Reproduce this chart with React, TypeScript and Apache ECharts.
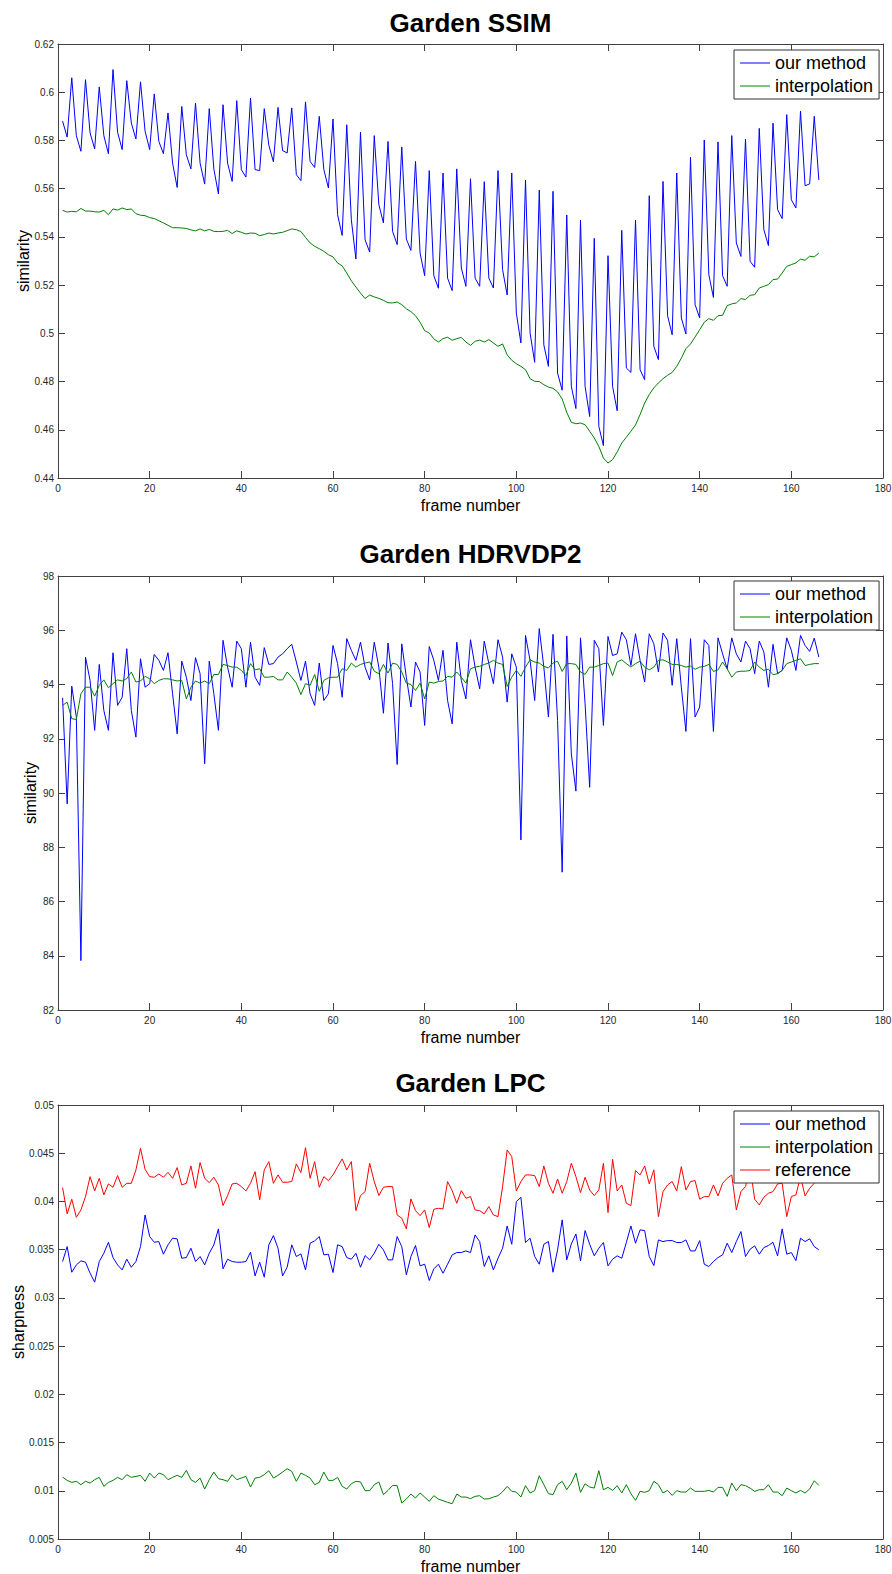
import React, { useEffect, useRef } from "react";
import * as echarts from "echarts";

const FONT = '"Liberation Sans", Arial, Helvetica, sans-serif';

const titles = ["Garden SSIM", "Garden HDRVDP2", "Garden LPC"];
const yNames = ["similarity", "similarity", "sharpness"];
const xName = "frame number";
const seriesNames = ["our method", "interpolation", "reference"];

// x ticks (frame number)
const xTicks = { min: 0, max: 180, interval: 20 };
// y ticks per chart
const yTicks = [
  { min: 0.44, max: 0.62, interval: 0.02 },
  { min: 82, max: 98, interval: 2 },
  { min: 0.005, max: 0.05, interval: 0.005 },
];

// ---- Garden SSIM ----
const ssimOurs = [
  0.588, 0.5814, 0.606, 0.582, 0.5755, 0.6052, 0.5831, 0.5765, 0.6022, 0.582,
  0.5745, 0.6094, 0.5834, 0.5762, 0.6048, 0.5872, 0.5806, 0.6043, 0.5838, 0.5762,
  0.5993, 0.5796, 0.5745, 0.5914, 0.5706, 0.5605, 0.5941, 0.5741, 0.5682, 0.5955,
  0.5706, 0.5619, 0.5932, 0.5682, 0.5578, 0.5948, 0.5706, 0.563, 0.5965, 0.5679,
  0.5648, 0.5976, 0.5679, 0.5675, 0.5932, 0.578, 0.5711, 0.5937, 0.5758, 0.5748,
  0.5935, 0.5658, 0.5633, 0.596, 0.5713, 0.5688, 0.59, 0.5679, 0.5603, 0.5889,
  0.5492, 0.5406, 0.5865, 0.5471, 0.5308, 0.5835, 0.5388, 0.5337, 0.582, 0.5534,
  0.5458, 0.5796, 0.5423, 0.5368, 0.5773, 0.5391, 0.5344, 0.5713, 0.5333, 0.5239,
  0.5675, 0.5239, 0.5187, 0.5665, 0.5229, 0.5177, 0.5682, 0.5271, 0.5195, 0.5641,
  0.5229, 0.5195, 0.5629, 0.5229, 0.5188, 0.5675, 0.5264, 0.5159, 0.5665, 0.5084,
  0.496, 0.5636, 0.5001, 0.488, 0.5594, 0.4952, 0.4863, 0.5589, 0.4835, 0.4764,
  0.5491, 0.478, 0.4688, 0.547, 0.478, 0.4655, 0.5394, 0.4614, 0.4534, 0.5322,
  0.478, 0.4679, 0.5427, 0.4856, 0.4838, 0.547, 0.4849, 0.4808, 0.5571, 0.4946,
  0.4891, 0.563, 0.5073, 0.4994, 0.5665, 0.5064, 0.4997, 0.573, 0.5119, 0.5064,
  0.5802, 0.5243, 0.5149, 0.5794, 0.5239, 0.5195, 0.582, 0.5375, 0.5319, 0.5806,
  0.5299, 0.5274, 0.585, 0.543, 0.5364, 0.5872, 0.5513, 0.5476, 0.5907, 0.5554,
  0.552, 0.5922, 0.5612, 0.562, 0.59, 0.5636,
];
const ssimInterp = [
  0.551, 0.5503, 0.5506, 0.5504, 0.5518, 0.5507, 0.5507, 0.5504, 0.5503, 0.551,
  0.5492, 0.5516, 0.5511, 0.552, 0.5513, 0.5516, 0.5496, 0.549, 0.5488, 0.548,
  0.5476, 0.5467, 0.5458, 0.5448, 0.5438, 0.5438, 0.5437, 0.5435, 0.5429, 0.5425,
  0.5433, 0.5425, 0.5431, 0.5423, 0.5422, 0.5423, 0.5427, 0.5414, 0.5425, 0.5419,
  0.5412, 0.5416, 0.5415, 0.5405, 0.541, 0.5416, 0.5412, 0.5416, 0.5419, 0.5426,
  0.5433, 0.543, 0.5422, 0.5398, 0.5375, 0.5361, 0.5351, 0.534, 0.5326, 0.5317,
  0.5292, 0.528, 0.525, 0.5218, 0.5192, 0.5167, 0.5144, 0.5159, 0.5151, 0.5145,
  0.5137, 0.5127, 0.5126, 0.513, 0.5119, 0.5102, 0.509, 0.5073, 0.5046, 0.5011,
  0.5001, 0.4977, 0.4964, 0.4978, 0.4984, 0.4971, 0.4978, 0.4983, 0.4964, 0.495,
  0.4967, 0.4972, 0.4964, 0.4974, 0.496, 0.4946, 0.4956, 0.4911, 0.4888, 0.4874,
  0.4863, 0.4849, 0.4812, 0.4801, 0.48, 0.4787, 0.4777, 0.4772, 0.4757, 0.4728,
  0.4672, 0.4631, 0.4625, 0.4628, 0.4621, 0.4594, 0.4566, 0.4531, 0.4483, 0.4462,
  0.4476, 0.4508, 0.4545, 0.4569, 0.4594, 0.462, 0.4663, 0.4711, 0.4746, 0.4774,
  0.4794, 0.4812, 0.4826, 0.4838, 0.4863, 0.4897, 0.4936, 0.4956, 0.4985, 0.5015,
  0.5046, 0.5061, 0.5054, 0.5073, 0.5075, 0.5115, 0.5122, 0.5126, 0.5144, 0.514,
  0.5158, 0.516, 0.5188, 0.5195, 0.5202, 0.5223, 0.5225, 0.525, 0.5278, 0.5285,
  0.5292, 0.5308, 0.5303, 0.532, 0.5317, 0.5333,
];

// ---- Garden HDRVDP2 ----
const hdrOurs = [
  93.51, 89.6, 93.94, 92.8, 83.82, 95.01, 94.15, 92.31, 94.74, 93.04,
  92.31, 95.17, 93.23, 93.53, 95.32, 93.04, 92.06, 94.95, 93.9, 94.03,
  95.11, 94.89, 94.52, 95.17, 93.66, 92.18, 94.86, 94.27, 93.41, 94.99,
  94.4, 91.08, 94.86, 93.66, 92.31, 95.63, 94.64, 93.9, 95.6, 95.32,
  93.9, 95.56, 94.27, 93.97, 95.36, 94.74, 94.77, 95.01, 95.13, 95.32,
  95.48, 94.83, 94.15, 94.86, 93.66, 93.23, 94.79, 93.41, 93.66, 95.44,
  94.77, 93.53, 95.69, 95.26, 94.89, 95.56, 94.64, 94.17, 95.56, 94.64,
  92.94, 95.53, 94.03, 91.05, 95.5, 94.27, 93.17, 94.83, 94.46, 92.49,
  95.4, 94.89, 94.15, 95.26, 93.41, 92.55, 95.56, 94.15, 93.47, 95.65,
  94.64, 93.84, 95.6, 94.77, 94.03, 95.65, 95.01, 93.35, 95.13, 94.64,
  88.27, 95.81, 94.89, 93.41, 96.06, 94.64, 92.8, 95.85, 92.67, 87.08,
  95.79, 91.44, 90.07, 95.72, 93.29, 90.21, 95.63, 95.32, 92.49, 95.77,
  95.07, 95.13, 95.93, 95.65, 94.7, 95.87, 94.89, 94.09, 95.87, 95.5,
  94.46, 95.9, 95.63, 93.97, 95.69, 93.9, 92.27, 95.69, 92.8, 93.17,
  95.65, 95.44, 92.27, 95.72, 95.13, 94.58, 95.72, 95.13, 94.83, 95.6,
  95.32, 94.4, 95.6, 95.2, 93.9, 95.48, 94.4, 94.52, 95.72, 95.26,
  94.52, 95.81, 95.44, 95.22, 95.71, 95.01,
];
const hdrInterp = [
  93.23, 93.35, 92.74, 92.71, 93.66, 93.9, 93.9, 93.57, 93.97, 94.17,
  93.88, 94.03, 94.17, 94.13, 94.22, 94.46, 94.09, 94.13, 94.3, 94.21,
  94.03, 94.15, 94.21, 94.21, 94.17, 94.13, 94.15, 93.47, 93.9, 94.13,
  94.05, 94.13, 94.03, 94.37, 94.37, 94.74, 94.7, 94.64, 94.64, 94.52,
  94.33, 94.77, 94.54, 94.58, 94.27, 94.27, 94.3, 94.17, 94.17, 94.46,
  94.27, 94.05, 93.63, 94.03, 93.97, 94.37, 93.75, 94.15, 94.25, 94.27,
  94.27, 94.58, 94.52, 94.79, 94.64, 94.74, 94.79, 94.83, 94.49, 94.4,
  94.74, 94.42, 94.79, 94.74, 94.46, 94.05, 94.0, 93.78, 94.05, 93.47,
  94.09, 94.05, 94.11, 94.13, 94.3, 94.27, 94.46, 94.27, 94.05, 94.58,
  94.64, 94.67, 94.74, 94.79, 94.89, 94.79, 94.74, 93.93, 94.27, 94.52,
  94.3, 94.64, 94.91, 94.83, 94.79, 94.67, 94.61, 94.79, 94.86, 94.48,
  94.77, 94.77, 94.74, 94.46, 94.37, 94.64, 94.64, 94.7, 94.77, 94.79,
  94.33, 94.83, 94.91, 94.77, 94.64, 94.77, 94.86, 94.64, 94.54, 94.64,
  94.89, 94.91, 94.83, 94.74, 94.74, 94.7, 94.64, 94.68, 94.56, 94.64,
  94.67, 94.74, 94.48, 94.54, 94.83, 94.58, 94.27, 94.46, 94.49, 94.49,
  94.52, 94.83, 94.64, 94.52, 94.56, 94.36, 94.4, 94.52, 94.77, 94.83,
  94.89, 94.95, 94.7, 94.74, 94.77, 94.77,
];

// ---- Garden LPC ----
const lpcOurs = [
  0.03377, 0.03532, 0.03266, 0.03342, 0.03384, 0.0337, 0.03256, 0.03163, 0.03377, 0.03463,
  0.03577, 0.03418, 0.03342, 0.0329, 0.03401, 0.03318, 0.03377, 0.03532, 0.0386, 0.03636,
  0.03577, 0.03584, 0.03453, 0.0355, 0.03619, 0.03612, 0.03411, 0.03418, 0.03515, 0.03377,
  0.03429, 0.03342, 0.03463, 0.0355, 0.03715, 0.03301, 0.03401, 0.03377, 0.0337, 0.0337,
  0.03377, 0.03474, 0.03228, 0.0337, 0.03215, 0.0355, 0.03646, 0.03515, 0.03228, 0.03318,
  0.0355, 0.03429, 0.03456, 0.0329, 0.03567, 0.03591, 0.03636, 0.03446, 0.03453, 0.03263,
  0.0355, 0.03532, 0.03418, 0.03401, 0.03463, 0.03318, 0.03439, 0.03394, 0.03463, 0.03556,
  0.03498, 0.03394, 0.03394, 0.03636, 0.03532, 0.03239, 0.03429, 0.03543, 0.03332, 0.03349,
  0.0318, 0.03301, 0.03349, 0.03256, 0.03349, 0.03446, 0.0347, 0.0347, 0.03487, 0.0347,
  0.03653, 0.03584, 0.03325, 0.03436, 0.0329, 0.03411, 0.03515, 0.03746, 0.03556, 0.03998,
  0.04043, 0.03574, 0.03619, 0.03429, 0.03349, 0.03556, 0.03584, 0.03266, 0.03498, 0.03809,
  0.03394, 0.0356, 0.03663, 0.03384, 0.03698, 0.03556, 0.03436, 0.03515, 0.03574, 0.03332,
  0.03401, 0.03436, 0.03411, 0.03574, 0.03746, 0.03567, 0.03705, 0.03698, 0.03429, 0.03335,
  0.03601, 0.03584, 0.03594, 0.03594, 0.03574, 0.03574, 0.03601, 0.03487, 0.03487, 0.03594,
  0.03349, 0.03325, 0.03377, 0.03418, 0.03446, 0.03567, 0.0347, 0.03584, 0.03688, 0.03429,
  0.03505, 0.03539, 0.03453, 0.03522, 0.03543, 0.03577, 0.03436, 0.03715, 0.03453, 0.0347,
  0.03387, 0.03619, 0.03584, 0.03612, 0.03532, 0.03498,
];
const lpcInterp = [
  0.01142, 0.01108, 0.01087, 0.01098, 0.01063, 0.01098, 0.0108, 0.01115, 0.01139, 0.01046,
  0.01087, 0.01108, 0.01139, 0.01115, 0.01167, 0.01139, 0.01149, 0.0116, 0.01098, 0.01184,
  0.01132, 0.01184, 0.01167, 0.01115, 0.01139, 0.0116, 0.01139, 0.01211, 0.01115, 0.01087,
  0.01132, 0.01018, 0.01115, 0.01194, 0.01125, 0.01115, 0.01098, 0.01167, 0.01115, 0.01132,
  0.01149, 0.01039, 0.01132, 0.01139, 0.01167, 0.01208, 0.01132, 0.0116, 0.01194, 0.01229,
  0.01201, 0.01098, 0.01184, 0.0116, 0.01132, 0.01063, 0.01087, 0.01194, 0.01108, 0.01108,
  0.01139, 0.01046, 0.01018, 0.01073, 0.01098, 0.01091, 0.01001, 0.01001, 0.01063, 0.01091,
  0.0096, 0.01004, 0.01056, 0.01053, 0.00873, 0.00914, 0.00966, 0.00925, 0.00977, 0.00935,
  0.0089, 0.00949, 0.00914, 0.00897, 0.0088, 0.00866, 0.00966, 0.00935, 0.00935, 0.00918,
  0.00942, 0.00949, 0.00914, 0.00918, 0.00935, 0.00949, 0.0099, 0.01046, 0.00994, 0.00987,
  0.00935, 0.01053, 0.00977, 0.01001, 0.01156, 0.01063, 0.0097, 0.0096, 0.01063, 0.01098,
  0.01011, 0.0108, 0.01184, 0.00984, 0.01073, 0.01039, 0.01028, 0.01208, 0.01011, 0.01035,
  0.01004, 0.01053, 0.00977, 0.01063, 0.0097, 0.00901, 0.00994, 0.00984, 0.01001, 0.01098,
  0.01063, 0.00977, 0.01004, 0.00952, 0.01001, 0.00987, 0.00987, 0.01028, 0.00994, 0.00994,
  0.00994, 0.01004, 0.00987, 0.01035, 0.01035, 0.00942, 0.0108, 0.01001, 0.01063, 0.01053,
  0.01028, 0.00994, 0.01011, 0.01011, 0.01063, 0.00987, 0.00987, 0.00949, 0.01028, 0.01001,
  0.00977, 0.01004, 0.00977, 0.01018, 0.01104, 0.01056,
];
const lpcReference = [
  0.04144, 0.03871, 0.04023, 0.03836, 0.03912, 0.0405, 0.04257, 0.04109, 0.0424, 0.04068,
  0.04182, 0.04147, 0.04268, 0.04147, 0.04188, 0.04188, 0.04327, 0.04551, 0.04333, 0.04257,
  0.04251, 0.04285, 0.04251, 0.04302, 0.0424, 0.04351, 0.04171, 0.04188, 0.04368, 0.04137,
  0.04403, 0.0424, 0.04195, 0.04251, 0.04171, 0.03957, 0.04061, 0.04182, 0.04188, 0.04154,
  0.04109, 0.04188, 0.04309, 0.04016, 0.04327, 0.04413, 0.04188, 0.04275, 0.04199, 0.04199,
  0.04206, 0.04389, 0.04299, 0.04558, 0.0424, 0.04413, 0.04147, 0.04257, 0.04216, 0.04275,
  0.04361, 0.04441, 0.04327, 0.04413, 0.03905, 0.04061, 0.04102, 0.04396, 0.04206, 0.04061,
  0.04147, 0.04154, 0.04154, 0.0386, 0.03826, 0.03715, 0.04026, 0.03905, 0.03853, 0.03912,
  0.03729, 0.03919, 0.03929, 0.03922, 0.04206, 0.04113, 0.03981, 0.04112, 0.04033, 0.0405,
  0.03912, 0.03905, 0.03871, 0.03947, 0.0386, 0.03843, 0.04154, 0.04534, 0.04465, 0.04109,
  0.04206, 0.04275, 0.04275, 0.04268, 0.04154, 0.04368, 0.04188, 0.04085, 0.04233, 0.04085,
  0.04206, 0.04396, 0.04257, 0.04092, 0.04251, 0.04119, 0.04061, 0.04119, 0.04396, 0.03885,
  0.04437, 0.04109, 0.04171, 0.03981, 0.03957, 0.0432, 0.04275, 0.04368, 0.04182, 0.04327,
  0.03843, 0.04102, 0.04171, 0.04206, 0.04109, 0.04361, 0.04119, 0.04206, 0.04216, 0.04023,
  0.0405, 0.0405, 0.04171, 0.04057, 0.04188, 0.0424, 0.04275, 0.03912, 0.04102, 0.04154,
  0.04361, 0.04023, 0.03964, 0.04043, 0.04085, 0.04102, 0.04182, 0.04188, 0.03843, 0.0405,
  0.04068, 0.04257, 0.04057, 0.04137, 0.04188, 0.04275,
];

const BLUE = "#0000ff";
const GREEN = "#008000";
const RED = "#ff0000";

// layout (pixels)
const GRID_LEFT = 58;
const GRID_WIDTH = 825;
const gridTops = [44, 576, 1105];
const GRID_HEIGHT = 434;
const titleYs = [23, 554, 1083];
const legendTops = [50, 581, 1111];
const yNameGaps = [27, 20, 32];

const toPoints = (arr: number[]) => arr.map((v, i) => [i + 1, v]);

const fmt = (v: number) => String(+v.toFixed(4));

export default function App() {
  const ref = useRef<HTMLDivElement>(null);
  useEffect(() => {
    if (!ref.current) return;
    const chart = echarts.init(ref.current, null, { renderer: "svg" });

    const seriesData = [
      [ssimOurs, ssimInterp],
      [hdrOurs, hdrInterp],
      [lpcOurs, lpcInterp, lpcReference],
    ];
    const colors = [BLUE, GREEN, RED];

    const grid: any[] = [];
    const xAxis: any[] = [];
    const yAxis: any[] = [];
    const series: any[] = [];
    const legend: any[] = [];
    const graphic: any[] = [];

    const axisLineStyle = { color: "#404040", width: 1 };
    const labelStyle = { color: "#262626", fontSize: 10, fontFamily: FONT };

    for (let g = 0; g < 3; g++) {
      grid.push({
        left: GRID_LEFT,
        top: gridTops[g],
        width: GRID_WIDTH,
        height: GRID_HEIGHT,
        containLabel: false,
        outerBoundsMode: "none",
        show: false,
      });
      // bottom x axis (data axis)
      xAxis.push({
        type: "value",
        gridIndex: g,
        position: "bottom",
        min: xTicks.min,
        max: xTicks.max,
        interval: xTicks.interval,
        name: xName,
        nameLocation: "middle",
        nameGap: 19,
        nameMoveOverlap: false,
        nameTextStyle: { fontSize: 16, color: "#000", fontFamily: FONT },
        axisLine: { show: true, onZero: false, lineStyle: axisLineStyle },
        axisTick: { show: true, inside: true, length: 7, lineStyle: axisLineStyle },
        axisLabel: { ...labelStyle, margin: 5 },
        splitLine: { show: false },
      });
      // top x axis (box)
      xAxis.push({
        type: "value",
        gridIndex: g,
        position: "top",
        min: xTicks.min,
        max: xTicks.max,
        interval: xTicks.interval,
        axisLine: { show: true, onZero: false, lineStyle: axisLineStyle },
        axisTick: { show: true, inside: true, length: 7, lineStyle: axisLineStyle },
        axisLabel: { show: false },
        splitLine: { show: false },
      });
      const yt = yTicks[g];
      yAxis.push({
        type: "value",
        gridIndex: g,
        position: "left",
        min: yt.min,
        max: yt.max,
        interval: yt.interval,
        name: yNames[g],
        nameLocation: "middle",
        nameGap: yNameGaps[g],
        nameRotate: 90,
        nameMoveOverlap: false,
        nameTextStyle: { fontSize: 16, color: "#000", fontFamily: FONT },
        axisLine: { show: true, onZero: false, lineStyle: axisLineStyle },
        axisTick: { show: true, inside: true, length: 7, lineStyle: axisLineStyle },
        axisLabel: { ...labelStyle, margin: 4, formatter: fmt },
        splitLine: { show: false },
      });
      yAxis.push({
        type: "value",
        gridIndex: g,
        position: "right",
        min: yt.min,
        max: yt.max,
        interval: yt.interval,
        axisLine: { show: true, onZero: false, lineStyle: axisLineStyle },
        axisTick: { show: true, inside: true, length: 7, lineStyle: axisLineStyle },
        axisLabel: { show: false },
        splitLine: { show: false },
      });

      const names: string[] = [];
      seriesData[g].forEach((arr, s) => {
        names.push(seriesNames[s]);
        series.push({
          type: "line",
          name: seriesNames[s],
          xAxisIndex: g * 2,
          yAxisIndex: g * 2,
          data: toPoints(arr),
          symbol: "none",
          showSymbol: false,
          lineStyle: { color: colors[s], width: 1 },
          itemStyle: { color: colors[s] },
          color: colors[s],
          silent: true,
          z: 2,
        });
      });

      legend.push({
        orient: "vertical",
        left: 734,
        top: legendTops[g],
        padding: [2, 6, 2, 6],
        itemGap: 1,
        itemWidth: 30,
        itemHeight: 1,
        icon: "rect",
        backgroundColor: "#fff",
        borderColor: "#333",
        borderWidth: 1,
        borderRadius: 0,
        selectedMode: false,
        textStyle: { fontSize: 18, color: "#000", fontFamily: FONT, lineHeight: 22 },
        data: names,
        z: 10,
      });

      graphic.push({
        type: "text",
        x: GRID_LEFT + GRID_WIDTH / 2,
        y: titleYs[g],
        style: {
          text: titles[g],
          fill: "#000",
          fontSize: 26,
          fontWeight: "bold",
          fontFamily: FONT,
          align: "center",
          verticalAlign: "middle",
        },
      });
    }

    chart.setOption({
      animation: false,
      backgroundColor: "#fff",
      grid,
      xAxis,
      yAxis,
      series,
      legend,
      graphic,
    });

    return () => chart.dispose();
  }, []);

  return (
    <div
      ref={ref}
      style={{ position: "absolute", left: 0, top: 0, width: 892, height: 1574, background: "#fff" }}
    />
  );
}
